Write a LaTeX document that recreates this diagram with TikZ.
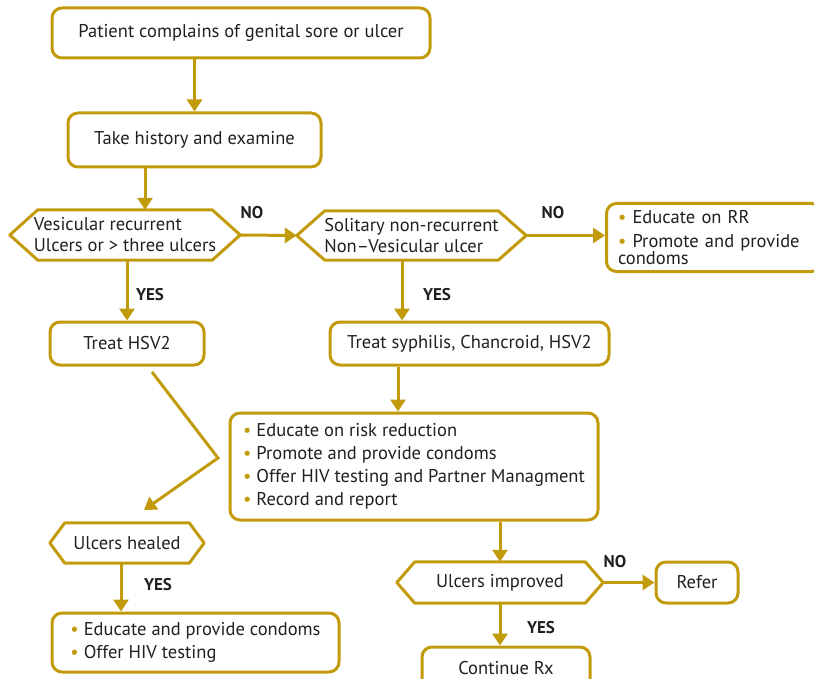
\documentclass[tikz,border=0pt]{standalone}
\usepackage{fontspec}
\setmainfont{PT Sans}
\usetikzlibrary{arrows.meta}
\definecolor{gold}{HTML}{C29B0C}
\definecolor{ink}{HTML}{231F20}
\newcommand\gb{{\color{gold}\textbullet}\ }
\newcommand\hexdraw[2]{\draw[frame] (#1.west) -- ([xshift=#2]#1.north west) -- ([xshift=-#2]#1.north east) -- (#1.east) -- ([xshift=-#2]#1.south east) -- ([xshift=#2]#1.south west) -- cycle;}
\tikzset{
  frame/.style={draw=gold, line width=3pt, line join=round},
  rbox/.style={draw=gold, line width=3pt, rounded corners=10pt, fill=white, text=ink,
    font=\fontsize{18.5}{21}\selectfont, inner sep=0pt, align=center},
  hexn/.style={text=ink, font=\fontsize{18.5}{21}\selectfont, inner sep=0pt, align=left},
  yn/.style={text=ink, font=\fontsize{17}{19}\selectfont\bfseries, inner sep=0pt},
  conn/.style={draw=gold, line width=3pt, -{Triangle[length=12pt,width=15pt]}},
}
\begin{document}
\begin{tikzpicture}[x=1pt,y=-1pt]
\useasboundingbox (0,0) rectangle (814,679);
\clip (0,0) rectangle (814,679);
% nodes
\node[rbox, minimum width=378pt, minimum height=50pt] (b1) at (241,33) {Patient complains of genital sore or ulcer};
\node[rbox, minimum width=253pt, minimum height=54pt] (b2) at (194.5,140) {Take history and examine};
\node[hexn, minimum width=230pt, minimum height=50pt] (h1) at (125,235) {Vesicular recurrent\\Ulcers or > three ulcers};
\hexdraw{h1}{28pt}
\node[hexn, minimum width=229pt, minimum height=49pt] (h2) at (411.5,235.5) {Solitary non-recurrent\\Non--Vesicular ulcer};
\hexdraw{h2}{28pt}
\node[rbox, anchor=north west, minimum width=215pt, minimum height=68pt, text width=192pt, align=left] (b5) at (605,202) {\gb Educate on RR\\[3pt]\gb Promote and provide\\[-4pt]condoms};
\node[rbox, minimum width=154pt, minimum height=43pt] (b6) at (127,343.5) {Treat HSV2};
\node[rbox, minimum width=279pt, minimum height=43pt] (b7) at (469.5,343.5) {Treat syphilis, Chancroid, HSV2};
\node[rbox, minimum width=368pt, minimum height=107pt, align=left, font=\fontsize{18.5}{23}\selectfont] (b8) at (414,466.5) {\gb Educate on risk reduction\\\gb Promote and provide condoms\\\gb Offer HIV testing and Partner Managment\\\gb Record and report};
\node[hexn, minimum width=154pt, minimum height=40pt] (h3) at (127,543) {Ulcers healed};
\hexdraw{h3}{15pt}
\node[rbox, minimum width=287pt, minimum height=59pt, align=left, font=\fontsize{18.5}{23}\selectfont] (b9) at (195.5,642.5) {\gb Educate and provide condoms\\\gb Offer HIV testing};
\node[hexn, minimum width=206pt, minimum height=41pt] (h4) at (500,582.5) {Ulcers improved};
\hexdraw{h4}{18pt}
\node[rbox, minimum width=82pt, minimum height=41pt] (b10) at (697,582.5) {Refer};
\node[rbox, minimum width=168pt, minimum height=43pt] (b11) at (506,668.5) {Continue Rx};
% labels
\node[yn] (no1) at (252,213) {NO};
\node[yn] (no2) at (553,213) {NO};
\node[yn] (yes1) at (150,295) {YES};
\node[yn] (yes2) at (437,295) {YES};
\node[yn] (yes3) at (158,585) {YES};
\node[yn] (no3) at (615,562) {NO};
\node[yn] (yes4) at (541,628) {YES};
% connectors
\draw[conn] (b2.north |- b1.south) -- (b2.north);
\coordinate (c2) at ([xshift=-49.5pt]b2.south);
\draw[conn] (c2) -- (c2 |- h1.north);
\draw[conn] (h1.east) -- (h2.west);
\draw[conn] (h2.east) -- (h2.east -| b5.west);
\draw[conn] (b6.north |- h1.south) -- (b6.north);
\coordinate (c3) at ([xshift=-9.5pt]h2.south);
\draw[conn] (c3) -- (c3 |- b7.north);
\coordinate (c4) at ([xshift=-71.5pt]b7.south);
\draw[conn] (c4) -- (c4 |- b8.north);
\coordinate (ds) at (152,372);
\coordinate (dm) at (218,458);
\coordinate (de) at (144,510);
\draw[conn] (ds) -- (dm) -- (de);
\coordinate (c5) at ([xshift=-6pt]h3.south);
\draw[conn] (c5) -- (c5 |- b9.north);
\draw[conn] (h4.north |- b8.south) -- (h4.north);
\draw[conn] (h4.east) -- (b10.west);
\draw[conn] (h4.south) -- (h4.south |- b11.north);
\end{tikzpicture}
\end{document}
